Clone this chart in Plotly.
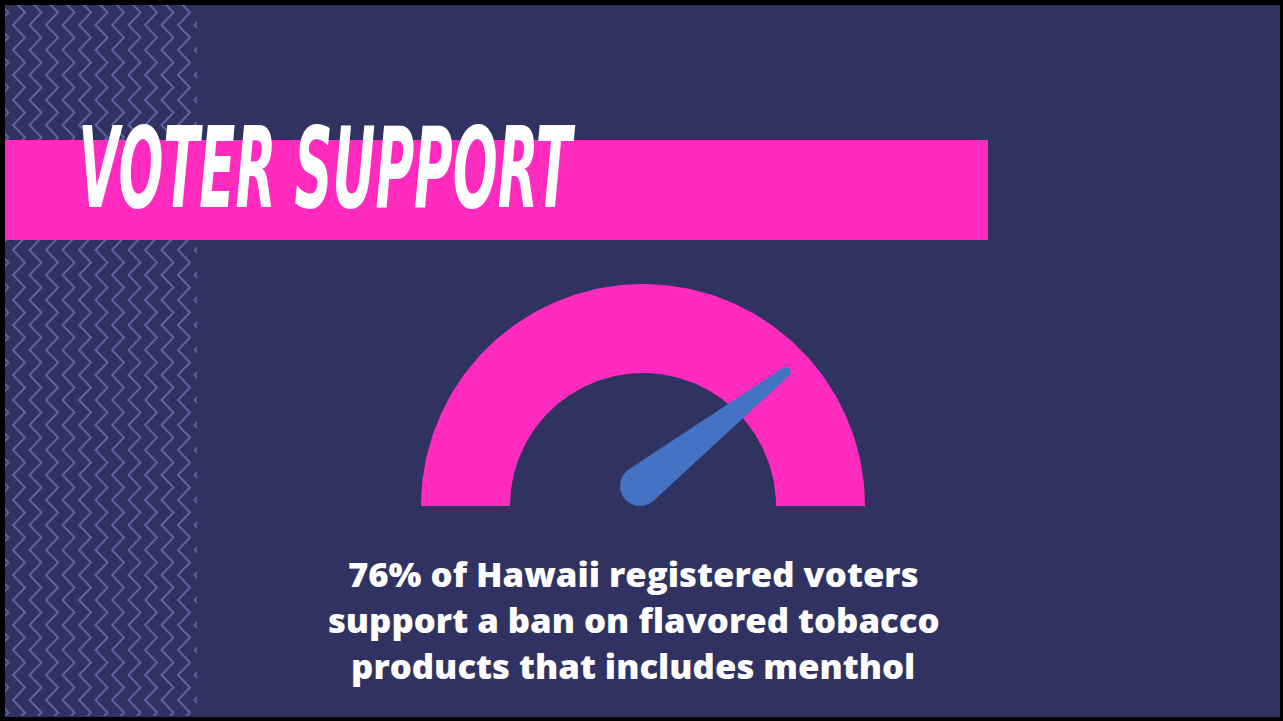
import numpy as np
import plotly.graph_objects as go

# ---------------- data ----------------
TITLE = "VOTER SUPPORT"
SUPPORT_PCT = 76          # % of Hawaii registered voters supporting the ban
GAUGE_MIN = 0
GAUGE_MAX = 100
BODY_LINES = [
    "76% of Hawaii registered voters",
    "support a ban on flavored tobacco",
    "products that includes menthol",
]

# ---------------- style ----------------
W, H = 1283, 721
NAVY = "#303361"
PINK = "#FF2BBE"
NEEDLE = "#4472C4"
ZIG = "#5C63A0"

CX, CY = 643, 506          # gauge centre (px)
R_OUT, R_IN = 222, 133
NEEDLE_R = 196
HUB = (CX - 3, CY - 20)
HUB_R, TIP_R = 20, 5

fig = go.Figure()

# ---- zigzag pattern (own clipped subplot) ----
PAT_X0, PAT_X1, PAT_Y0, PAT_Y1 = 5, 197, 5, 716
spacing, amp, half = 16.5, 12, 12.5
ys = np.arange(PAT_Y0 - 30, PAT_Y1 + 30, half)
for k in range(16):
    x0 = -20 + k * spacing
    xs = [x0 + (amp if i % 2 else 0) for i in range(len(ys))]
    fig.add_trace(go.Scatter(x=xs, y=ys, mode="lines", xaxis="x2", yaxis="y2",
                             line=dict(color=ZIG, width=2), hoverinfo="skip",
                             showlegend=False))

# ---- gauge arc ----
th = np.linspace(0, np.pi, 181)
gx = np.concatenate([CX + R_OUT * np.cos(th), CX + R_IN * np.cos(th[::-1])])
gy = np.concatenate([CY - R_OUT * np.sin(th), CY - R_IN * np.sin(th[::-1])])
fig.add_trace(go.Scatter(x=gx, y=gy, fill="toself", fillcolor=PINK, mode="lines",
                         line=dict(width=0, color=PINK), hoverinfo="skip",
                         showlegend=False))

# ---- needle ----
ang = np.pi * (1 - (SUPPORT_PCT - GAUGE_MIN) / (GAUGE_MAX - GAUGE_MIN))
tip = (CX + NEEDLE_R * np.cos(ang), CY - NEEDLE_R * np.sin(ang))
dx, dy = tip[0] - HUB[0], tip[1] - HUB[1]
L = np.hypot(dx, dy)
phi = np.arctan2(dy, dx)
beta = np.arccos((HUB_R - TIP_R) / L)
a1 = np.linspace(phi + beta, phi + 2 * np.pi - beta, 80)
a2 = np.linspace(phi - beta, phi + beta, 30)
nx = np.concatenate([HUB[0] + HUB_R * np.cos(a1), tip[0] + TIP_R * np.cos(a2)])
ny = np.concatenate([HUB[1] + HUB_R * np.sin(a1), tip[1] + TIP_R * np.sin(a2)])
fig.add_trace(go.Scatter(x=nx, y=ny, fill="toself", fillcolor=NEEDLE, mode="lines",
                         line=dict(width=0, color=NEEDLE), hoverinfo="skip",
                         showlegend=False))

# ---- shapes ----
fig.add_shape(type="rect", xref="x", yref="y", x0=5, x1=1280, y0=5, y1=717,
              fillcolor=NAVY, line=dict(width=0), layer="below")
fig.add_shape(type="rect", xref="x", yref="y", x0=5, x1=988, y0=140, y1=240,
              fillcolor=PINK, line=dict(width=0), layer="above")

# ---- text ----
fig.add_annotation(x=326.5, y=168, xref="x", yref="y", text=TITLE, showarrow=False,
                   xanchor="center", yanchor="middle",
                   font=dict(family="Liberation Sans Narrow, DejaVu Sans Condensed, sans-serif",
                             size=112, color="white", weight=700, style="italic"))
for i, line in enumerate(BODY_LINES):
    fig.add_annotation(x=633, y=574.5 + 46 * i, xref="x", yref="y", text=line,
                       showarrow=False, xanchor="center", yanchor="middle",
                       font=dict(family="Open Sans, sans-serif", size=33,
                                 color="white", weight=800))

fig.update_layout(
    width=W, height=H, margin=dict(l=0, r=0, t=0, b=0),
    paper_bgcolor="black", plot_bgcolor="rgba(0,0,0,0)",
    xaxis=dict(range=[0, W], visible=False, domain=[0, 1], fixedrange=True),
    yaxis=dict(range=[H, 0], visible=False, domain=[0, 1], fixedrange=True),
    xaxis2=dict(range=[PAT_X0, PAT_X1], visible=False, anchor="y2",
                domain=[PAT_X0 / W, PAT_X1 / W], fixedrange=True),
    yaxis2=dict(range=[PAT_Y1, PAT_Y0], visible=False, anchor="x2",
                domain=[(H - PAT_Y1) / H, (H - PAT_Y0) / H], fixedrange=True),
    showlegend=False,
)

post = """
var gd = document.getElementById('{plot_id}');
document.body.style.margin = '0';
document.body.style.overflow = 'hidden';
function stretch(t, s){
  t.removeAttribute('transform');
  var bb = t.getBBox();
  var cx = bb.x + bb.width / 2;
  t.setAttribute('transform', 'translate(' + cx + ',0) scale(' + s + ',1) translate(' + (-cx) + ',0)');
}
function fitText(){
  var nodes = gd.querySelectorAll('text.annotation-text');
  var bodyScale = null;
  nodes.forEach(function(t){
    var s = t.textContent;
    if (s.indexOf('VOTER') === 0) {
      t.removeAttribute('transform');
      stretch(t, 497 / t.getBBox().width);
    } else if (s.indexOf('76%') === 0) {
      t.removeAttribute('transform');
      bodyScale = 571 / t.getBBox().width;
    }
  });
  if (bodyScale) {
    nodes.forEach(function(t){
      if (t.textContent.indexOf('VOTER') !== 0) stretch(t, bodyScale);
    });
  }
}
fitText();
gd.on('plotly_afterplot', fitText);
"""

fig.write_html("out.html", config={"displayModeBar": False, "staticPlot": True},
               post_script=post)
